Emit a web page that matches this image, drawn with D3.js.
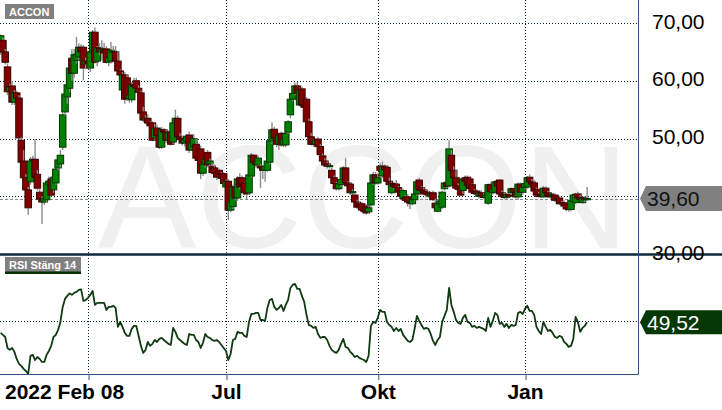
<!DOCTYPE html>
<html><head><meta charset="utf-8">
<script src="https://cdn.jsdelivr.net/npm/d3@7"></script>
<style>
html,body{margin:0;padding:0;background:#fff;}
svg{display:block;}
text{font-family:"Liberation Sans",Arial,sans-serif;}
</style></head><body>
<svg id="chart" width="722" height="410"></svg>
<script>
// ---------- DATA ----------
const ticker = "ACCON";
const rsiTitle = "RSI Stäng 14";
const startDate = "2022-02-08";
const holidays = ["2022-04-15","2022-04-18","2022-05-26","2022-06-06","2022-06-24","2022-12-26","2023-01-06"];
const startLabel = "2022 Feb 08";
const timeTicks = ["2022-04-01","2022-07-01","2022-10-03","2023-01-02"];
const timeTickLabels = ["","Jul","Okt","Jan"];
const priceGrid = [40,50,60,70];
const priceLabels = [30,50,60,70];
const rsiGrid = [50];

const opens = [
65.0,67.0,65.0,62.4,58.1,59.1,56.3,57.9,57.0,49.7,
46.1,43.2,41.1,42.5,46.1,46.4,43.8,40.7,39.5,39.0,
39.4,42.0,43.0,41.1,42.3,44.9,45.6,48.5,54.6,57.2,
58.7,63.9,61.3,63.5,64.1,65.8,65.8,62.9,63.4,62.2,
65.0,68.4,63.4,65.7,65.0,65.5,65.5,63.2,63.4,65.0,
65.0,63.4,61.7,58.4,61.0,60.5,56.9,56.7,59.3,60.0,
58.7,57.9,54.6,53.2,53.5,52.7,52.7,50.1,51.8,50.5,
48.5,51.5,51.1,49.7,51.1,49.4,52.7,53.5,50.3,50.0,
49.2,49.5,50.6,48.0,48.6,49.0,46.8,48.2,44.0,45.5,
47.6,45.6,45.2,44.9,44.0,44.5,43.9,43.9,41.6,42.6,
37.6,38.2,41.6,39.7,43.2,43.2,42.3,40.8,40.6,43.5,
47.1,46.0,45.4,45.2,44.9,44.5,44.5,45.9,49.6,51.6,
50.1,49.0,50.9,48.9,48.9,51.1,54.1,56.8,57.8,59.1,
55.8,58.6,55.8,56.8,52.9,50.3,49.3,49.0,49.9,48.6,
47.0,46.1,45.6,45.2,44.5,43.2,42.2,41.3,42.0,42.9,
44.9,42.3,42.1,40.6,40.2,39.0,38.6,38.7,37.6,38.3,
37.3,38.5,42.3,43.7,42.3,45.2,43.5,45.2,45.0,42.6,
40.6,42.2,42.1,41.5,40.9,39.6,39.8,39.9,39.0,38.7,
39.4,40.4,42.8,41.5,41.1,40.8,40.6,40.0,40.6,38.8,
37.4,38.7,38.1,41.3,42.3,41.8,47.1,44.5,43.2,41.8,
41.4,41.0,43.2,43.3,43.0,42.0,40.9,40.9,40.0,40.6,
40.1,39.8,38.8,42.0,40.6,40.7,42.5,42.8,40.6,40.2,
39.8,40.3,40.6,41.3,40.7,39.9,42.1,40.7,41.5,41.6,
43.3,42.5,42.3,41.2,40.4,40.2,39.9,41.4,40.6,40.4,
39.9,40.2,39.3,39.7,38.7,38.9,38.5,38.7,37.7,39.1,
38.9,40.4,39.8,38.9,39.7,39.4];

const highs = [
68.0,67.5,65.5,63.0,59.5,60.0,58.4,58.3,57.5,50.2,
48.0,43.8,41.6,46.8,47.0,49.9,44.5,41.2,40.0,40.2,
42.8,43.4,43.5,43.6,45.5,47.0,48.0,54.5,58.0,60.0,
62.5,65.5,65.5,67.6,66.5,66.3,66.2,64.0,64.0,66.0,
68.8,69.2,66.0,66.5,67.0,66.6,66.0,64.5,66.7,66.0,
66.0,65.0,62.0,61.5,61.5,61.0,58.0,59.8,60.5,60.5,
59.2,58.3,55.5,54.0,54.2,53.0,53.0,52.5,52.4,51.0,
52.0,51.8,51.5,51.4,51.4,53.0,55.0,54.0,51.0,50.5,
50.3,50.8,51.2,50.0,50.8,50.0,47.2,48.8,46.0,47.0,
48.0,46.5,45.8,45.5,44.6,44.8,44.2,44.2,42.9,43.0,
39.5,42.0,42.0,43.5,44.0,43.6,42.5,41.2,44.0,47.5,
47.3,46.6,47.0,45.6,45.4,45.8,46.4,50.0,52.8,52.0,
50.5,50.8,51.2,50.5,51.2,53.2,57.0,58.2,59.7,59.8,
58.8,59.0,56.5,57.2,53.4,51.0,49.8,50.0,50.3,49.0,
47.4,46.6,46.0,45.6,45.0,43.6,42.5,42.5,43.2,45.2,
46.6,42.6,42.3,41.2,40.5,39.4,39.0,39.0,38.0,38.6,
38.5,42.8,44.2,44.2,44.0,45.7,46.0,45.5,45.4,43.2,
42.5,42.5,42.8,41.8,41.3,41.3,40.2,40.4,39.4,39.6,
40.5,43.0,43.2,41.8,41.5,41.2,41.0,40.8,41.0,39.6,
39.0,39.5,41.0,42.6,42.8,49.7,48.0,45.2,44.5,42.2,
41.6,43.3,43.6,43.6,43.2,42.2,41.2,41.2,40.8,41.0,
40.5,40.6,42.2,42.4,41.5,42.8,42.9,43.0,41.0,40.6,
40.6,40.8,41.5,41.5,41.2,42.4,42.4,41.8,42.5,43.5,
43.8,43.0,42.8,41.5,40.8,40.6,41.8,41.7,40.9,40.6,
40.4,40.5,39.8,40.1,39.2,39.3,38.9,39.0,39.6,40.5,
40.6,40.8,40.2,39.9,40.0,41.6];

const lows = [
64.5,64.5,62.8,57.5,57.6,55.8,55.8,56.4,49.8,45.4,
42.8,40.6,36.8,42.0,45.2,43.0,41.0,39.0,35.2,38.5,
38.8,41.5,40.0,40.6,42.0,44.5,45.0,48.0,54.0,56.0,
58.0,60.0,60.5,63.0,63.5,64.2,60.1,62.0,62.0,61.5,
64.8,63.0,62.5,64.5,63.5,64.2,63.0,62.5,63.0,64.0,
62.5,61.2,60.5,57.5,56.0,56.5,56.2,56.2,58.5,58.2,
57.5,54.0,52.8,52.5,52.3,51.5,49.5,49.8,50.0,48.2,
48.2,50.5,49.2,49.4,48.8,49.0,52.3,50.0,49.5,48.8,
48.6,48.5,47.5,47.8,48.2,46.3,45.5,43.0,43.5,45.0,
45.0,45.2,43.8,43.8,42.8,43.2,42.5,41.8,41.0,35.9,
37.2,37.8,39.3,39.2,41.2,41.6,40.2,39.5,40.2,43.2,
45.5,45.0,45.0,41.4,43.0,42.5,44.2,45.5,49.0,49.8,
48.5,48.0,48.6,48.5,48.5,50.8,53.5,56.4,57.5,57.6,
55.5,55.5,55.0,52.5,49.8,48.8,48.6,48.6,48.2,46.8,
45.8,45.1,44.8,44.8,43.0,41.8,41.0,41.0,41.6,42.6,
42.0,41.2,40.2,40.2,38.6,37.8,37.8,37.2,37.0,36.8,
36.9,38.2,42.0,42.0,42.0,44.2,43.2,44.0,42.3,41.8,
40.3,41.2,41.2,40.4,39.8,39.4,39.0,38.2,37.8,38.4,
39.1,40.1,41.0,40.6,40.2,39.8,39.8,39.6,39.2,37.8,
37.2,38.2,37.8,41.0,41.4,41.5,44.2,43.0,41.2,40.8,
40.0,40.4,42.3,41.6,41.0,40.4,40.2,40.0,39.6,39.8,
39.5,39.4,38.5,40.2,40.3,40.5,41.5,40.2,39.8,39.5,
39.5,39.8,40.2,40.4,39.6,39.4,40.4,40.3,41.2,41.3,
42.2,41.8,40.6,39.8,39.8,39.7,39.7,40.4,39.8,39.6,
39.6,39.0,38.9,38.5,38.3,38.0,37.4,37.3,37.4,38.8,
38.6,39.4,39.2,38.7,39.0,39.2];

const closes = [
67.8,65.0,63.2,58.1,58.9,56.3,57.9,57.0,50.1,45.9,
43.2,41.1,38.0,46.1,46.4,43.3,41.4,39.5,39.0,39.6,
42.3,42.6,40.2,43.2,44.7,46.3,47.1,54.1,57.7,59.3,
62.2,61.3,64.5,64.6,65.8,65.0,62.2,63.4,63.0,65.0,
68.4,63.2,65.7,65.0,65.5,64.8,63.2,64.0,65.3,65.1,
63.4,61.7,61.0,61.0,56.8,56.9,57.5,59.3,59.0,58.7,
58.0,54.4,53.2,53.5,52.7,52.2,49.7,51.8,50.5,48.5,
51.5,51.1,49.7,51.1,49.0,52.7,53.5,50.3,49.8,49.2,
49.8,50.4,48.0,49.2,50.0,46.6,46.2,44.0,45.5,46.4,
45.4,46.1,44.1,44.0,43.3,43.9,43.1,42.2,42.6,37.6,
39.0,41.6,39.7,43.0,41.6,42.0,40.6,40.4,43.7,47.1,
45.9,45.5,46.6,44.9,44.5,45.2,46.1,49.6,51.5,50.1,
49.0,50.6,48.9,49.8,50.9,52.9,56.8,57.8,59.1,57.9,
58.4,55.8,55.4,52.9,50.3,49.0,49.0,49.7,48.6,47.2,
46.1,45.4,45.2,45.3,43.2,42.2,41.3,42.2,42.9,44.9,
42.3,41.8,40.6,40.8,39.0,38.1,38.3,37.6,37.4,37.1,
38.0,42.3,43.7,42.3,43.2,44.5,45.2,44.6,42.6,42.0,
42.1,41.7,41.5,40.7,40.0,41.0,39.3,39.0,38.8,39.4,
40.4,42.5,41.1,41.0,40.4,40.4,40.2,40.4,39.4,38.0,
38.7,39.2,40.7,42.3,41.7,48.2,44.5,43.2,41.4,41.2,
40.2,43.0,42.6,41.9,41.3,40.7,40.5,40.4,40.6,40.1,
39.8,40.2,42.0,40.8,41.2,42.5,41.8,40.4,40.0,39.8,
40.3,40.0,41.3,40.7,39.9,42.1,40.7,41.5,42.2,43.2,
42.5,42.1,40.9,40.2,40.0,40.0,41.4,40.6,40.0,39.9,
40.2,39.3,39.5,38.7,38.9,38.3,37.8,37.7,39.3,40.2,
40.3,39.7,39.4,39.7,39.4,39.6];

const rsi = [
43.5,42.4,41.2,35.0,33.9,35.0,32.8,28.8,26.0,24.9,
23.2,22.0,20.4,30.5,31.1,28.2,29.9,28.8,27.1,27.1,
31.1,33.3,36.2,41.2,42.4,45.2,49.7,58.2,62.7,64.4,
65.8,65.0,66.1,66.7,67.8,68.1,61.6,62.1,63.3,65.0,
67.2,59.3,60.5,60.5,60.5,60.5,56.5,58.2,58.2,58.8,
57.6,46.9,49.7,46.9,43.5,41.8,41.8,45.8,47.5,47.5,
41.8,36.2,32.2,33.9,38.4,36.2,37.3,39.5,38.4,40.1,
40.7,39.5,38.4,37.3,36.7,46.3,44.1,40.7,39.5,38.4,
37.3,36.7,42.9,42.4,42.4,39.5,38.4,35.0,37.9,42.9,
41.2,40.7,39.5,39.0,39.5,38.4,36.7,35.0,33.3,28.2,
31.6,39.5,40.1,44.1,43.5,43.5,41.8,41.2,49.7,54.2,
54.2,54.8,54.8,50.8,50.8,50.3,57.6,62.1,62.7,58.2,
56.5,57.6,59.3,55.9,59.3,62.1,68.9,70.6,71.2,68.4,
68.4,64.4,61.0,53.7,48.0,47.5,46.3,46.9,42.9,40.7,
41.2,41.2,39.5,36.2,33.9,32.8,32.2,33.9,37.3,40.1,
35.6,35.0,32.8,31.6,29.9,30.5,29.4,28.8,28.2,27.1,
30.5,47.5,49.7,49.2,52.0,56.5,55.4,55.4,49.7,48.0,
46.9,44.6,46.3,44.6,45.8,42.4,40.7,39.0,38.4,39.5,
45.8,53.1,50.3,48.0,45.8,46.3,45.8,42.9,39.0,36.7,
39.5,41.2,49.7,53.1,56.5,68.9,59.3,55.4,50.8,49.2,
48.6,52.0,53.7,49.7,49.2,46.9,47.5,46.3,46.9,46.3,
45.8,44.6,52.0,46.9,50.3,54.8,53.7,48.6,49.2,46.9,
48.6,46.3,48.0,47.5,48.0,54.8,55.4,54.2,57.1,58.8,
55.9,55.9,53.7,46.9,44.6,42.9,49.7,46.9,44.6,45.2,
43.5,41.2,40.7,41.8,41.2,38.4,37.3,35.6,36.2,40.1,
52.5,49.7,44.1,46.3,47.5,49.52];

// ---------- LAYOUT ----------
const W = 722, H = 410;
const plotL = 0, plotR = 638;
const priceTop = 0, priceBot = 254;
const rsiTop = 255, rsiBot = 374;

const parse = d3.utcParse("%Y-%m-%d");
const holSet = new Set(holidays);
const dates = [];
{
  let d = parse(startDate);
  while (dates.length < closes.length) {
    const wd = d.getUTCDay();
    const key = d3.utcFormat("%Y-%m-%d")(d);
    if (wd !== 0 && wd !== 6 && !holSet.has(key)) dates.push(new Date(d));
    d = d3.utcDay.offset(d, 1);
  }
}
const tickIdx = timeTicks.map(t => dates.findIndex(d => +d === +parse(t)));

const x = d3.scaleLinear().domain([0, 277]).range([0.6, 0.6 + 277 * 2.3]);
const y = d3.scaleLinear().domain([30, 70]).range([priceBot, 23]);
const yr = d3.scaleLinear().domain([20.3, 87.5]).range([rsiBot, rsiTop]);

const loc = d3.formatLocale({decimal: ",", thousands: "\u00a0", grouping: [3], currency: ["", ""]});
const f2 = loc.format(".2f");

const svg = d3.select("#chart");
svg.append("rect").attr("width", W).attr("height", H).attr("fill", "#fff");

// watermark
svg.append("text")
  .attr("x", 98).attr("y", 248)
  .attr("font-size", 147)
  .attr("fill", "#f0f0f0")
  .text(ticker);

const gridColor = "#032030";
const grid = svg.append("g").attr("shape-rendering", "crispEdges");
// horizontal price grid
grid.append("g").selectAll("line").data(priceGrid).join("line")
  .attr("x1", plotL).attr("x2", plotR)
  .attr("y1", d => Math.round(y(d)) + 0.5).attr("y2", d => Math.round(y(d)) + 0.5)
  .attr("stroke", gridColor).attr("stroke-dasharray", "1,2").attr("stroke-width", 1);
// rsi grid
grid.append("g").selectAll("line").data(rsiGrid).join("line")
  .attr("x1", plotL).attr("x2", plotR)
  .attr("y1", d => Math.round(yr(d)) + 0.5).attr("y2", d => Math.round(yr(d)) + 0.5)
  .attr("stroke", gridColor).attr("stroke-dasharray", "1,2").attr("stroke-width", 1);
// vertical grid
grid.append("g").selectAll("line").data(tickIdx).join("line")
  .attr("x1", d => Math.round(x(d)) + 0.5).attr("x2", d => Math.round(x(d)) + 0.5)
  .attr("y1", 0).attr("y2", rsiBot)
  .attr("stroke", gridColor).attr("stroke-dasharray", "1,2").attr("stroke-width", 1);

// last price dashed line
const lastClose = closes[closes.length - 1];
svg.append("line")
  .attr("x1", plotL).attr("x2", plotR)
  .attr("y1", Math.round(y(lastClose)) + 0.5).attr("y2", Math.round(y(lastClose)) + 0.5)
  .attr("stroke", "#8a8a8a").attr("stroke-dasharray", "3,2").attr("stroke-width", 1);

// candles
const cw = 6.5;
const cg = svg.append("g");
closes.forEach((c, i) => {
  const o = opens[i], h = highs[i], l = lows[i];
  const up = c >= o;
  const g = cg.append("g");
  g.append("line")
    .attr("x1", x(i)).attr("x2", x(i))
    .attr("y1", y(h)).attr("y2", y(l))
    .attr("stroke", "#8c8c8c").attr("stroke-width", 1.4);
  const yt = y(Math.max(o, c)), yb = y(Math.min(o, c));
  g.append("rect")
    .attr("x", x(i) - cw / 2).attr("width", cw)
    .attr("y", yt).attr("height", Math.max(1, yb - yt))
    .attr("fill", up ? "#008000" : "#800000")
    .attr("stroke", up ? "#003800" : "#3c0000").attr("stroke-width", 1);
});

// RSI line
svg.append("path")
  .datum(rsi)
  .attr("fill", "none")
  .attr("stroke", "#0f3a12")
  .attr("stroke-width", 1.8)
  .attr("stroke-linejoin", "round")
  .attr("d", d3.line().x((d, i) => x(i)).y(d => yr(d)));

// separator line
svg.append("line").attr("x1", 0).attr("x2", W)
  .attr("y1", priceBot + 0.5).attr("y2", priceBot + 0.5)
  .attr("stroke", "#0b2a3a").attr("stroke-width", 2.5);

// frame lines
svg.append("line").attr("x1", plotR + 0.5).attr("x2", plotR + 0.5).attr("y1", 0).attr("y2", rsiBot + 0.5)
  .attr("stroke", "#2f5283").attr("stroke-width", 1);
svg.append("line").attr("x1", 0).attr("x2", plotR + 0.5).attr("y1", rsiBot + 0.5).attr("y2", rsiBot + 0.5)
  .attr("stroke", "#2f5283").attr("stroke-width", 1);

// price axis
const pAxis = svg.append("g").attr("transform", `translate(${plotR},0)`)
  .call(d3.axisRight(y).tickValues(priceLabels).tickSize(0).tickPadding(14).tickFormat(f2));
pAxis.select(".domain").remove();
pAxis.selectAll("text").attr("font-size", 21).attr("fill", "#000")
  .attr("font-family", "'Liberation Sans',Arial,sans-serif").attr("dy", "0.24em");

// last value tags
function tag(cy, h, fill, txt, color) {
  const g = svg.append("g");
  g.append("path")
    .attr("d", `M${plotR + 2},${cy} L${plotR + 8},${cy - h / 2} L${W},${cy - h / 2} L${W},${cy + h / 2} L${plotR + 8},${cy + h / 2} Z`)
    .attr("fill", fill);
  g.append("text").attr("x", plotR + 9).attr("y", cy).attr("dy", "0.36em")
    .attr("font-size", 21).attr("fill", color).text(txt);
}
tag(y(lastClose), 25, "#808080", f2(lastClose), "#111");
const lastRsi = rsi[rsi.length - 1];
tag(yr(lastRsi), 24, "#053805", f2(lastRsi), "#fff");

// x axis
const xAxis = svg.append("g").attr("transform", `translate(0,${rsiBot})`)
  .call(d3.axisBottom(x).tickValues(tickIdx).tickSize(6).tickFormat((d, i) => timeTickLabels[i]));
xAxis.select(".domain").remove();
xAxis.selectAll("line").attr("stroke", "#2f5283").attr("transform", "translate(0.5,0)");
xAxis.selectAll("text").attr("font-size", 21).attr("font-weight", "bold").attr("fill", "#000")
  .attr("font-family", "'Liberation Sans',Arial,sans-serif").attr("y", 25).attr("dy", 0);
svg.append("text").attr("x", 5).attr("y", rsiBot + 25)
  .attr("font-size", 21).attr("font-weight", "bold").attr("fill", "#000").text(startLabel);

// titles
function titleBox(xx, yy, w, h, txt, underline) {
  svg.append("rect").attr("x", xx).attr("y", yy).attr("width", w).attr("height", h).attr("fill", "#808080");
  if (underline) svg.append("rect").attr("x", xx).attr("y", yy + h - 2.5).attr("width", w).attr("height", 2.5).attr("fill", "#003300");
  svg.append("text").attr("x", xx + 4).attr("y", yy + 12).attr("font-size", 11).attr("font-weight", "bold")
    .attr("fill", "#fff").text(txt);
}
titleBox(5, 4, 49, 15, ticker, false);
titleBox(5, 257, 76, 17, rsiTitle, true);
</script>
</body></html>
